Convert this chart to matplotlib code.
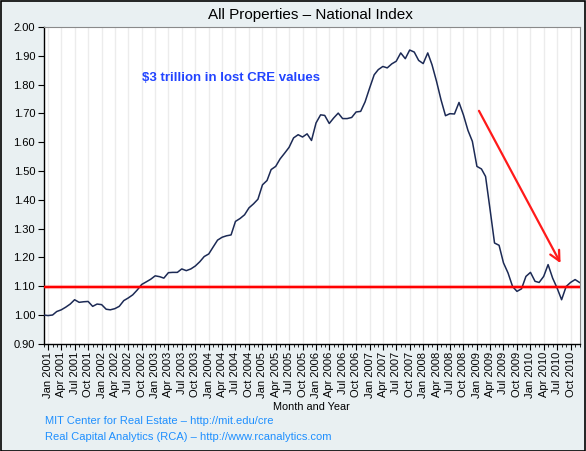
import numpy as np
import pandas as pd
import matplotlib
matplotlib.use("Agg")
import matplotlib.pyplot as plt
import matplotlib.dates as mdates

plt.rcParams['font.family'] = ['Liberation Sans', 'DejaVu Sans']

# monthly index, Dec 2000 = 1.00 through Dec 2010
start_month = "2000-12-01"
end_month = "2010-12-01"
index_values = [
    1.000,
    0.998, 1.000, 1.012, 1.018, 1.027, 1.038, 1.053, 1.044, 1.046, 1.047, 1.030, 1.038,  # 2001
    1.036, 1.020, 1.018, 1.022, 1.030, 1.050, 1.059, 1.070, 1.087, 1.106, 1.115, 1.124,  # 2002
    1.136, 1.133, 1.128, 1.147, 1.148, 1.148, 1.160, 1.154, 1.160, 1.170, 1.185, 1.203,  # 2003
    1.212, 1.237, 1.260, 1.270, 1.275, 1.278, 1.325, 1.335, 1.348, 1.372, 1.386, 1.402,  # 2004
    1.452, 1.467, 1.505, 1.516, 1.542, 1.562, 1.582, 1.615, 1.626, 1.618, 1.629, 1.606,  # 2005
    1.667, 1.695, 1.693, 1.665, 1.684, 1.701, 1.682, 1.682, 1.686, 1.705, 1.707, 1.740,  # 2006
    1.788, 1.834, 1.852, 1.863, 1.858, 1.872, 1.881, 1.910, 1.890, 1.920, 1.913, 1.884,  # 2007
    1.873, 1.910, 1.869, 1.811, 1.748, 1.692, 1.699, 1.698, 1.738, 1.695, 1.641, 1.603,  # 2008
    1.516, 1.507, 1.481, 1.365, 1.250, 1.242, 1.181, 1.146, 1.099, 1.082, 1.091, 1.134,  # 2009
    1.148, 1.117, 1.113, 1.134, 1.175, 1.128, 1.094, 1.053, 1.099, 1.113, 1.123, 1.113,  # 2010
]
ref_level = 1.097
arrow_from = ("2009-01-15", 1.709)
arrow_to = ("2010-07-25", 1.180)
note_pos = ("2002-10-01", 1.824)
note_text = "\\$3 trillion in lost CRE values"
title = "All Properties \u2013 National Index"
sources = ["MIT Center for Real Estate \u2013 http://mit.edu/cre",
           "Real Capital Analytics (RCA) \u2013 http://www.rcanalytics.com"]

dates = pd.date_range(start_month, end_month, freq="MS")
bg = "#e9f0f2"

fig = plt.figure(figsize=(5.86, 4.51), dpi=100, facecolor=bg)
ax = fig.add_axes([43.5 / 586, 1 - 343.8 / 451, 536 / 586, 316.8 / 451])
ax.set_facecolor("white")

ax.plot(dates, index_values, color="#1c2a55", lw=1.1, zorder=3)
ax.axhline(ref_level, color="#ff0000", lw=1.6, zorder=4)
ax.axhline(ref_level, color="#ff0000", lw=3.0, alpha=0.25, zorder=4)

ax.annotate("", xy=(pd.Timestamp(arrow_to[0]), arrow_to[1]),
            xytext=(pd.Timestamp(arrow_from[0]), arrow_from[1]),
            arrowprops=dict(arrowstyle="->", color="#ff1a1a", lw=1.6,
                            mutation_scale=18, shrinkA=0, shrinkB=0), zorder=5)
ax.text(pd.Timestamp(note_pos[0]), note_pos[1], note_text, color="#2244ff",
        fontsize=9.5, fontweight="bold", va="center", ha="left")

ax.set_xlim(dates[0], dates[-1])
ax.set_ylim(0.90, 2.00)
ax.set_yticks(np.arange(0.90, 2.001, 0.10))
ax.yaxis.set_major_formatter(plt.FormatStrFormatter("%.2f"))

ax.xaxis.set_major_locator(mdates.MonthLocator(bymonth=[1, 4, 7, 10]))
ax.xaxis.set_minor_locator(mdates.MonthLocator())
ax.xaxis.set_major_formatter(mdates.DateFormatter("%b %Y"))
ax.tick_params(axis="x", which="major", labelrotation=90, labelsize=8, length=4, pad=2)
ax.tick_params(axis="x", which="minor", length=2.5)
ax.tick_params(axis="y", labelsize=8, length=4, pad=2)
ax.grid(axis="x", which="major", color="#ececec", lw=1.0, zorder=0)
ax.set_axisbelow(True)

for side in ("top", "right"):
    ax.spines[side].set_color("#8a8a8a")
    ax.spines[side].set_linewidth(0.8)
for side in ("left", "bottom"):
    ax.spines[side].set_color("black")
    ax.spines[side].set_linewidth(1.0)

ax.set_xlabel("Month and Year", fontsize=7.8, labelpad=3)
fig.text(310.5 / 586, 1 - 14.5 / 451, title, fontsize=11, ha="center", va="center")
fig.text(45 / 586, 1 - 421 / 451, sources[0], fontsize=8, color="#1e8fff", va="center")
fig.text(45 / 586, 1 - 436.5 / 451, sources[1], fontsize=8, color="#1e8fff", va="center")

fig.patches.append(plt.Rectangle((0.001, 0.001), 0.998, 0.997, transform=fig.transFigure,
                                 fill=False, edgecolor="black", lw=1.2))

fig.savefig("out.png", dpi=100, facecolor=bg)
